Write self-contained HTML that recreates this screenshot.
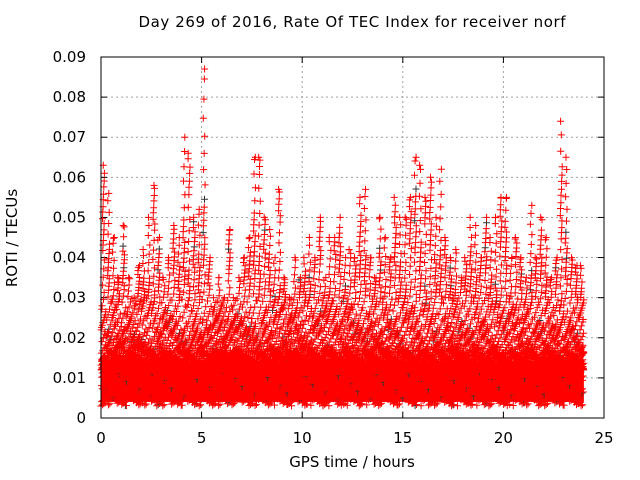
<!DOCTYPE html>
<html><head><meta charset="utf-8"><style>
body{margin:0;background:#fff;}
svg{display:block;font-family:"DejaVu Sans","Liberation Sans",sans-serif;}
</style></head><body>
<svg id="chart" width="640" height="480" viewBox="0 0 640 480">
<text x="352" y="27" font-size="15" text-anchor="middle" textLength="427">Day 269 of 2016, Rate Of TEC Index for receiver norf</text>
<text x="352" y="467" font-size="15" text-anchor="middle">GPS time / hours</text>
<text transform="translate(17,238) rotate(-90)" font-size="15" text-anchor="middle">ROTI / TECUs</text>
<g id="grid"></g><g id="ticks"></g><g id="marks"></g>
<rect x="101" y="57" width="503" height="361" fill="none" stroke="#000" stroke-width="1"/>
</svg>
<script>
const xTicks=[0,5,10,15,20,25];
const yTicks=[0,0.01,0.02,0.03,0.04,0.05,0.06,0.07,0.08,0.09];
const yTickLabels=["0","0.01","0.02","0.03","0.04","0.05","0.06","0.07","0.08","0.09"];
const binStart=0, binWidth=0.25;
const peaks=[0.063,0.056,0.045,0.035,0.048,0.035,0.030,0.038,0.042,0.050,0.058,0.045,0.035,0.040,0.048,0.045,
0.070,0.066,0.050,0.052,0.087,0.040,0.030,0.035,0.030,0.047,0.030,0.035,0.040,0.045,0.065,0.065,
0.050,0.047,0.040,0.057,0.035,0.030,0.040,0.035,0.040,0.045,0.040,0.050,0.035,0.045,0.045,0.050,
0.040,0.042,0.040,0.055,0.057,0.040,0.035,0.050,0.045,0.040,0.055,0.050,0.050,0.055,0.065,0.063,
0.055,0.060,0.050,0.062,0.045,0.040,0.042,0.035,0.040,0.050,0.048,0.040,0.050,0.045,0.050,0.055,
0.055,0.040,0.045,0.040,0.035,0.053,0.040,0.050,0.045,0.035,0.040,0.074,0.065,0.040,0.038,0.038];
const X0=101,X1=604,Y0=418,Y1=57;
const xs=v=>X0+(v-0)/25*(X1-X0);
const ys=v=>Y0-(v-0)/0.09*(Y0-Y1);
const NS="http://www.w3.org/2000/svg";
const grid=document.getElementById('grid'),ticks=document.getElementById('ticks'),marks=document.getElementById('marks');
function mk(tag,attrs,parent){const e=document.createElementNS(NS,tag);for(const k in attrs)e.setAttribute(k,attrs[k]);parent.appendChild(e);return e;}
yTicks.forEach((t,i)=>{
  const y=ys(t);
  if(i>0&&i<yTicks.length-1){const g=mk('line',{x1:X0,x2:X1,y1:y,y2:y,stroke:'#a0a0a0','stroke-dasharray':'2,3'},grid);
  
  }
  mk('line',{x1:X0,x2:X0+6,y1:y,y2:y,stroke:'#000'},ticks);
  mk('line',{x1:X1,x2:X1-6,y1:y,y2:y,stroke:'#000'},ticks);
  const l=mk('text',{x:86,y:y+5,'font-size':15,'text-anchor':'end'},ticks);l.textContent=yTickLabels[i];
  
  
});
xTicks.forEach((t,i)=>{
  const x=xs(t);
  if(i>0&&i<xTicks.length-1){const g=mk('line',{x1:x,x2:x,y1:Y0,y2:Y1,stroke:'#a0a0a0','stroke-dasharray':'2,3'},grid);
  
  }
  mk('line',{x1:x,x2:x,y1:Y0,y2:Y0-6,stroke:'#000'},ticks);
  mk('line',{x1:x,x2:x,y1:Y1,y2:Y1+6,stroke:'#000'},ticks);
  const l=mk('text',{x:x,y:443,'font-size':15,'text-anchor':'middle'},ticks);l.textContent=String(t);
  
  
});
const band=mk('rect',{x:xs(0),y:ys(0.014),width:xs(peaks.length*binWidth)-xs(0),height:ys(0.004)-ys(0.014),fill:'#ff0000'},marks);


let red='',blk='';
const cross=(x,y)=>`M${(x-3.5).toFixed(1)} ${y.toFixed(1)}h7M${x.toFixed(1)} ${(y-3.5).toFixed(1)}v7`;
peaks.forEach((p,b)=>{
  const t0=binStart+b*binWidth;
  const N=100;
  for(let k=0;k<N;k++){
    const xf=(k*0.5698403+b*0.217)%1;
    const u=(k*0.7548777+b*0.431)%1;
    let v;
    if(k<25) v=0.003+0.014*u;
    else v=0.012+(p-0.012)*Math.pow(u,3.6);
    if(k===N-1) v=p;
    let tx=t0+xf*binWidth;
    if(k===N-1||v>0.03) tx=t0+binWidth*(0.3+0.4*xf);
    const c=cross(xs(tx),ys(v));
    if(k%41===7) blk+=c; else red+=c;
  }
});
const bp=mk('path',{d:blk,stroke:'#333','stroke-width':1,fill:'none'},marks);


const rp=mk('path',{d:red,stroke:'#ff0000','stroke-width':1,fill:'none'},marks);


</script>
</body></html>
